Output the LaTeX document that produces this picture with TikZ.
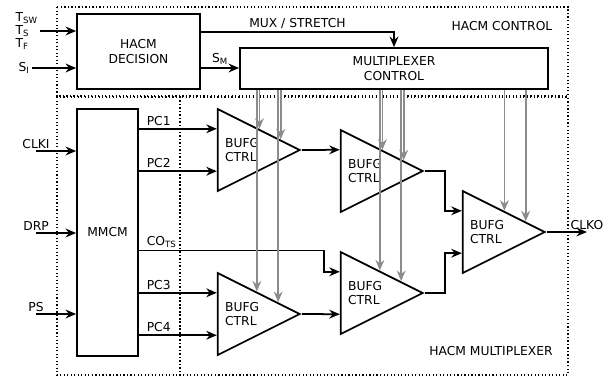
\documentclass[tikz,border=0pt]{standalone}
\usepackage{fontspec}
\setmainfont{DejaVu Sans}
\usetikzlibrary{shapes.geometric, arrows.meta, calc}

\begin{document}
\begin{tikzpicture}[x=0.03cm, y=-0.03cm, font=\fontsize{10.5}{12.5}\selectfont,
    >={Stealth[length=9pt, width=7.5pt]},
    lbl/.style={inner sep=2pt},
    blk/.style={draw, line width=1.5pt, align=center},
    buf/.style={draw, line width=1.5pt, isosceles triangle, isosceles triangle stretches,
        minimum width=2.46cm, minimum height=2.46cm, inner sep=0pt, anchor=apex, align=left},
    sig/.style={->, line width=1.5pt},
    sel/.style={->, line width=1.4pt, gray!90},
    area/.style={dotted, line width=1pt}]
    \useasboundingbox (0,0) rectangle (616,381);

    % Dotted areas
    \draw[area] (57,7) rectangle (568,96);
    \draw[area] (57,97) rectangle (180,375);
    \draw[area] (180,97) rectangle (568,375);
    \node (ctrlname) at (502,26) {HACM CONTROL};
    \node (muxname) at (491,351) {HACM MULTIPLEXER};

    % Control blocks
    \node[blk, minimum width=3.69cm, minimum height=2.25cm] (dec) at (138.5,51.5) {HACM\\DECISION};
    \node[blk, minimum width=9.24cm, minimum height=1.23cm] (muxc) at (394,68.5) {MULTIPLEXER\\CONTROL};
    \node[lbl, anchor=west, align=left, font=\fontsize{10.5}{11.5}\selectfont] (tin) at (13,31)
        {T\textsubscript{SW}\\T\textsubscript{S}\\T\textsubscript{F}};
    \node[lbl, anchor=west] (si) at (16,68) {S\textsubscript{I}};
    \draw[sig] (tin.east) -- (tin.east -| dec.west);
    \draw[sig] (si) -- (si -| dec.west);
    \draw[sig] (dec.east |- 0,32) -| node[lbl, above, pos=0.25] {MUX / STRETCH} (muxc.north);
    \draw[sig] (dec.east |- 0,68) -- node[lbl, above] {S\textsubscript{M}} (muxc.west |- 0,68);

    % Clock manager
    \node[blk, minimum width=1.83cm, minimum height=7.41cm] (mmcm) at (107.5,232.5) {MMCM};
    \coordinate[label={[lbl]above:CLKI}] (clki) at (36,151);
    \coordinate[label={[lbl]above:DRP}] (drp) at (36,233);
    \coordinate[label={[lbl]above:PS}] (ps) at (36,314);
    \foreach \c in {clki, drp, ps}
        \draw[sig] (\c) -- (\c -| mmcm.west);

    % Buffer tree
    \node[buf] (b1) at (302,150) {BUFG\\CTRL};
    \node[buf] (b2) at (425,171) {BUFG\\CTRL};
    \node[buf] (b3) at (302,314) {BUFG\\CTRL};
    \node[buf] (b4) at (425,293) {BUFG\\CTRL};
    \node[buf] (b5) at (547,232) {BUFG\\CTRL};
    \foreach \b in {b1, b2, b3, b4, b5} {
        \coordinate (\b-1) at ($(\b.left corner)!.25!(\b.right corner)$);
        \coordinate (\b-2) at ($(\b.left corner)!.75!(\b.right corner)$);
    }
    \draw[sig] (b1-1 -| mmcm.east) node[lbl, above right, xshift=4pt] {PC1} -- (b1-1);
    \draw[sig] (b1-2 -| mmcm.east) node[lbl, above right, xshift=4pt] {PC2} -- (b1-2);
    \draw[sig] (b3-1 -| mmcm.east) node[lbl, above right, xshift=4pt] {PC3} -- (b3-1);
    \draw[sig] (b3-2 -| mmcm.east) node[lbl, above right, xshift=4pt] {PC4} -- (b3-2);
    \draw[sig] (b4.left corner -| mmcm.east) node[lbl, above right, xshift=4pt] {CO\textsubscript{TS}}
        -- ++(185,0) |- (b4-1);
    \draw[sig] (b1.apex) -- (b2-1);
    \draw[sig] (b3.apex) -- (b4-2);
    \draw[sig] (b2.apex) -- ++(20,0) |- (b5-1);
    \draw[sig] (b4.apex) -- ++(20,0) |- (b5-2);
    \coordinate[label={[lbl]above:CLKO}] (clko) at (587,232);
    \draw[sig] (b5.apex) -- (clko);

    % Select lines from the multiplexer control
    \foreach \b/\f in {b1/.5, b1/.75, b2/.5, b2/.75, b3/.47, b3/.72, b4/.47, b4/.72, b5/.5, b5/.75}
        \draw[sel] let \p1 = ($(\b.left corner)!\f!(\b.apex)$), \p2 = (muxc.south) in (\x1,\y2) -- (\p1);
\end{tikzpicture}
\end{document}
